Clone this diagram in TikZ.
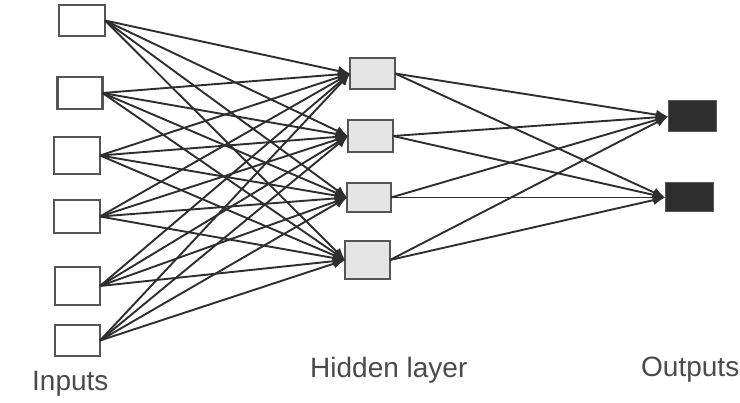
\documentclass[tikz,border=0pt]{standalone}
\usepackage{fontspec}
\setmainfont{Liberation Sans}
\usetikzlibrary{arrows.meta}
\definecolor{edge}{HTML}{2E2E2E}
\definecolor{boxline}{HTML}{555555}
\definecolor{labelgray}{HTML}{4A4A4A}
\tikzset{
  inbox/.style={draw=boxline, line width=2.4pt, fill=white, inner sep=0pt, outer sep=0pt},
  hidbox/.style={draw=boxline, line width=2.4pt, fill=gray!20, inner sep=0pt, outer sep=0pt},
  outbox/.style={draw=gray!70!black, line width=1pt, fill=edge, inner sep=0pt, outer sep=0pt},
  conn/.style={draw=edge, line width=1.9pt, -{Latex[length=12pt,width=10pt]}},
  lbl/.style={anchor=base west, inner sep=0pt, text=labelgray, font=\fontsize{28}{30}\selectfont}
}
\begin{document}
\begin{tikzpicture}[x=1pt,y=-1pt]
\useasboundingbox (0,0) rectangle (740,403);
% inputs
\node[inbox, minimum width=46pt, minimum height=31pt] (i1) at (82,20.5) {};
\node[inbox, minimum width=45pt, minimum height=32pt] (i2) at (80,93) {};
\node[inbox, minimum width=46pt, minimum height=37pt] (i3) at (77,155.5) {};
\node[inbox, minimum width=46pt, minimum height=33pt] (i4) at (77,216.5) {};
\node[inbox, minimum width=45pt, minimum height=38pt] (i5) at (77.5,286) {};
\node[inbox, minimum width=45pt, minimum height=31pt] (i6) at (77.5,340.5) {};
% hidden
\node[hidbox, minimum width=45pt, minimum height=31pt] (h1) at (372.5,73.5) {};
\node[hidbox, minimum width=45pt, minimum height=32pt] (h2) at (370.5,136) {};
\node[hidbox, minimum width=44pt, minimum height=29pt] (h3) at (369,197.5) {};
\node[hidbox, minimum width=45pt, minimum height=38pt] (h4) at (367.5,260) {};
% outputs
\node[outbox, minimum width=48pt, minimum height=31pt] (o1) at (692,116.5) {};
\node[outbox, minimum width=48pt, minimum height=29pt] (o2) at (689,197.5) {};
% connections
\foreach \i in {1,...,6}{
  \foreach \h in {1,...,4}{
    \draw[conn] (i\i.east) -- (h\h.west);
  }
}
\foreach \h in {1,...,4}{
  \foreach \o in {1,2}{
    \draw[conn] (h\h.east) -- (o\o.west);
  }
}
% labels
\node[lbl] (linputs) at (32,391) {Inputs};
\node[lbl] (lhidden) at (310,378) {Hidden layer};
\node[lbl] (loutputs) at (641,377) {Outputs};
\end{tikzpicture}
\end{document}
